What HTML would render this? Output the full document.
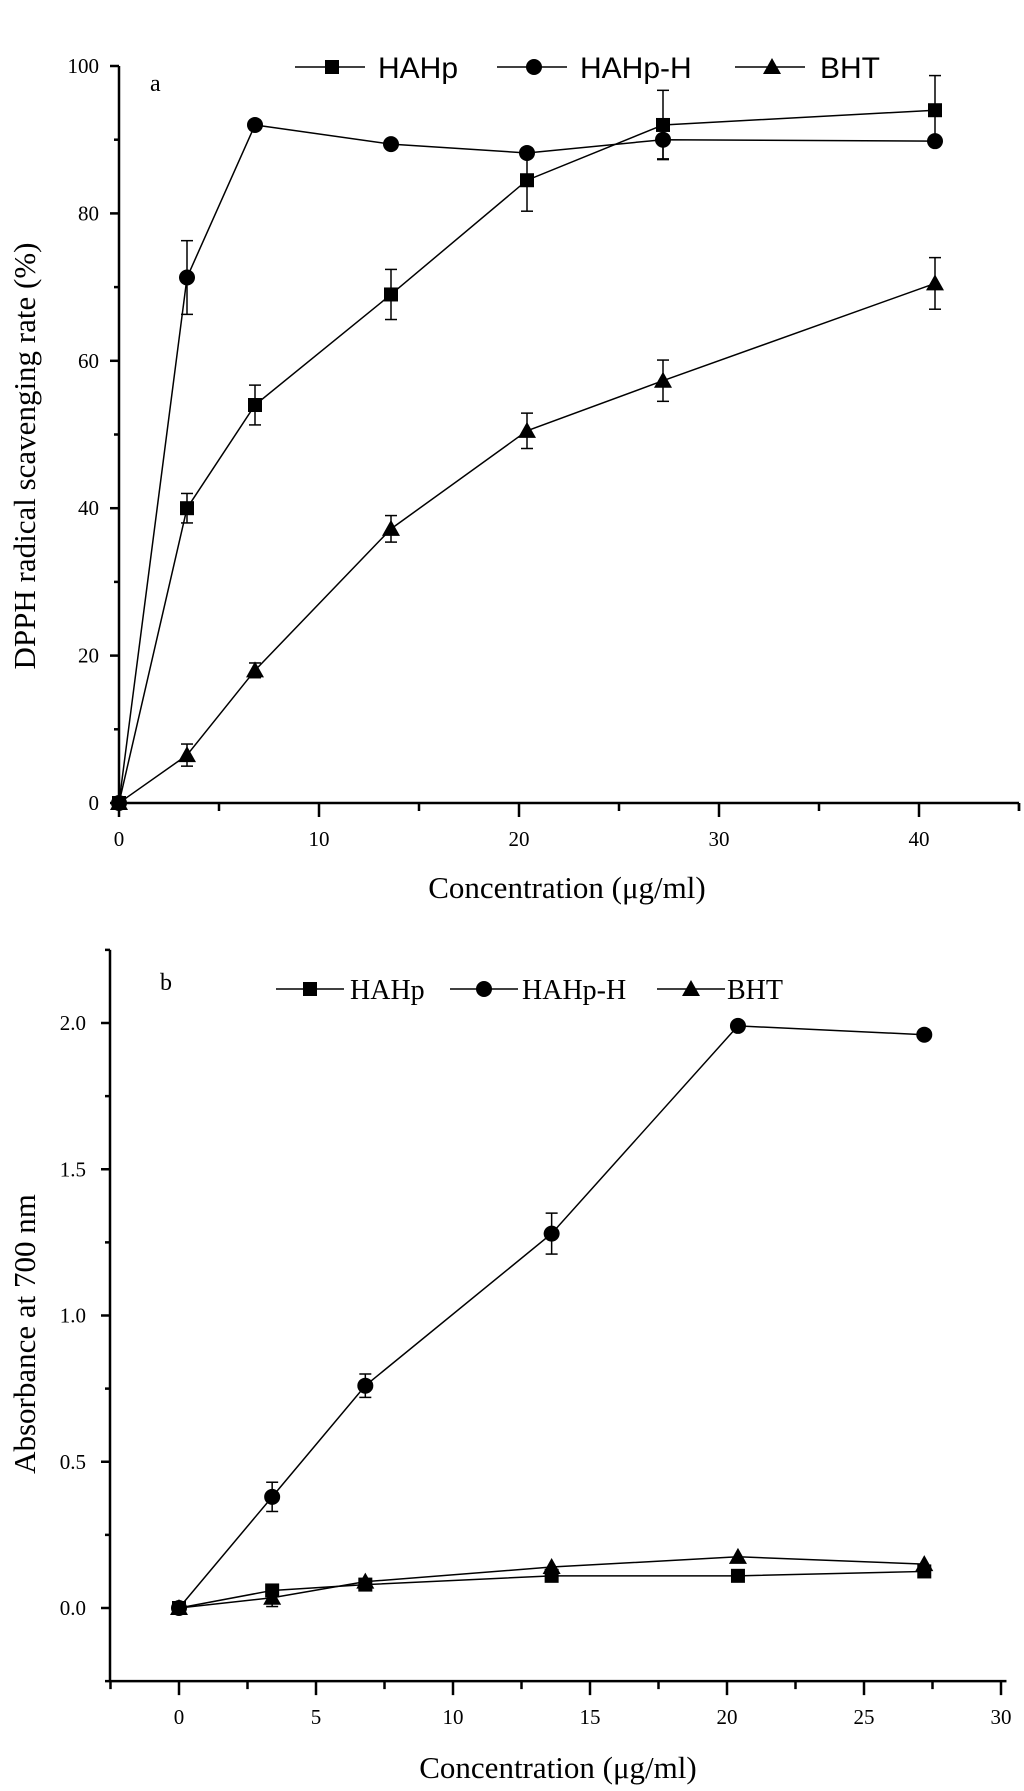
<!DOCTYPE html>
<html><head><meta charset="utf-8">
<style>
html,body{margin:0;padding:0;background:#fff;}
svg{display:block;}
</style></head>
<body>
<svg id="c" width="1024" height="1791" viewBox="0 0 1024 1791" xmlns="http://www.w3.org/2000/svg" font-family="'Liberation Serif', serif"></svg>
<script>
// ---- Chart a data ----
const aConc = [0, 3.4, 6.8, 13.6, 20.4, 27.2, 40.8];
const aHAHp = [0, 40, 54, 69, 84.5, 92, 94];
const aHAHpErr = [0, 2, 2.7, 3.4, 4.2, 4.7, 4.7];
const aHAHpH = [0, 71.3, 92, 89.4, 88.2, 90, 89.8];
const aHAHpHErr = [0, 5, 0.4, 0.4, 0.4, 2.6, 0.4];
const aBHT = [0, 6.5, 18, 37.2, 50.5, 57.3, 70.5];
const aBHTErr = [0, 1.5, 1, 1.8, 2.4, 2.8, 3.5];
const aXTicks = [0, 10, 20, 30, 40];
const aYTicks = [0, 20, 40, 60, 80, 100];
// ---- Chart b data ----
const bConc = [0, 3.4, 6.8, 13.6, 20.4, 27.2];
const bHAHp = [0, 0.06, 0.08, 0.11, 0.11, 0.125];
const bHAHpErr = [0, 0.01, 0.01, 0.01, 0.01, 0.01];
const bHAHpH = [0, 0.38, 0.76, 1.28, 1.99, 1.96];
const bHAHpHErr = [0, 0.05, 0.04, 0.07, 0, 0];
const bBHT = [0, 0.035, 0.09, 0.14, 0.175, 0.15];
const bBHTErr = [0, 0.03, 0.01, 0.01, 0.01, 0.01];
const bXTicks = [0, 5, 10, 15, 20, 25, 30];
const bYTicks = ['0.0', '0.5', '1.0', '1.5', '2.0'];

const NS = 'http://www.w3.org/2000/svg';
const svg = document.getElementById('c');
function mk(tag, attrs, parent, text) {
  const e = document.createElementNS(NS, tag);
  for (const k in attrs) e.setAttribute(k, attrs[k]);
  if (text !== undefined) e.textContent = text;
  (parent || svg).appendChild(e);
  return e;
}
function marker(g, shape, x, y, s) {
  let m;
  if (shape === 'sq') m = mk('rect', {x: x - s, y: y - s, width: 2 * s, height: 2 * s, fill: '#000'}, g);
  else if (shape === 'ci') m = mk('circle', {cx: x, cy: y, r: s + 1, fill: '#000'}, g);
  else m = mk('polygon', {points: `${x},${y - s - 2} ${x - s - 2},${y + s} ${x + s + 2},${y + s}`, fill: '#000'}, g);
  return m;
}
function series(g, name, xs, ys, es, sx, sy, shape) {
  const sg = mk('g', {}, g);
  
  
  const pts = xs.map((v, i) => `${sx(v)},${sy(ys[i])}`).join(' ');
  mk('polyline', {points: pts, fill: 'none', stroke: '#000', 'stroke-width': 1.5}, sg);
  xs.forEach((v, i) => {
    const x = sx(v), y1 = sy(ys[i] + es[i]), y2 = sy(ys[i] - es[i]);
    if (es[i] > 0) {
      mk('line', {x1: x, y1: y1, x2: x, y2: y2, stroke: '#000', 'stroke-width': 1.5}, sg);
      mk('line', {x1: x - 6, y1: y1, x2: x + 6, y2: y1, stroke: '#000', 'stroke-width': 1.5}, sg);
      mk('line', {x1: x - 6, y1: y2, x2: x + 6, y2: y2, stroke: '#000', 'stroke-width': 1.5}, sg);
    }
    const m = marker(sg, shape, x, sy(ys[i]), 7);
    
    
  });
}

// ===== Chart a =====
(function () {
  const g = mk('g', {});
  
  
  const X0 = 119, XS = 20.0, Y0 = 803, YS = 7.37;
  const sx = v => X0 + v * XS, sy = v => Y0 - v * YS;
  mk('line', {x1: sx(0), y1: sy(0), x2: sx(0), y2: sy(100), stroke: '#000', 'stroke-width': 2.5}, g);
  mk('line', {x1: sx(0), y1: sy(0), x2: sx(45), y2: sy(0), stroke: '#000', 'stroke-width': 2.5}, g);
  mk('line', {x1: sx(45), y1: sy(0), x2: sx(45), y2: sy(0) + 8, stroke: '#000', 'stroke-width': 2.5}, g);
  for (let v = 0; v <= 100; v += 10) {
    const maj = v % 20 === 0;
    mk('line', {x1: sx(0), y1: sy(v), x2: sx(0) - (maj ? 9 : 5), y2: sy(v), stroke: '#000', 'stroke-width': 2.5}, g);
  }
  aYTicks.forEach(v => {
    const t = mk('text', {x: 99, y: sy(v) + 7, 'text-anchor': 'end', 'font-size': 21}, g, String(v));
    
    
  });
  for (let v = 0; v <= 45; v += 5) {
    const maj = v % 10 === 0;
    mk('line', {x1: sx(v), y1: sy(0), x2: sx(v), y2: sy(0) + (maj ? 14 : 8), stroke: '#000', 'stroke-width': 2.5}, g);
  }
  aXTicks.forEach(v => {
    const t = mk('text', {x: sx(v), y: 846, 'text-anchor': 'middle', 'font-size': 21}, g, String(v));
    
    
  });
  const xt = mk('text', {x: 567, y: 898, 'text-anchor': 'middle', 'font-size': 31}, g, 'Concentration (μg/ml)');
  
  
  const yt = mk('text', {x: 0, y: 0, 'text-anchor': 'middle', 'font-size': 31, transform: 'translate(35,456) rotate(-90)'}, g, 'DPPH radical scavenging rate (%)');
  
  
  const pl = mk('text', {x: 150, y: 91, 'font-size': 24}, g, 'a');
  
  
  series(g, 'a-series-hahp', aConc, aHAHp, aHAHpErr, sx, sy, 'sq');
  series(g, 'a-series-hahp-h', aConc, aHAHpH, aHAHpHErr, sx, sy, 'ci');
  series(g, 'a-series-bht', aConc, aBHT, aBHTErr, sx, sy, 'tr');
  const leg = [['HAHp', 'sq', 295, 378], ['HAHp-H', 'ci', 497, 580], ['BHT', 'tr', 735, 820]];
  leg.forEach(l => {
    const lg = mk('g', {}, g);
    
    
    mk('line', {x1: l[2], y1: 67, x2: l[2] + 70, y2: 67, stroke: '#000', 'stroke-width': 1.5}, lg);
    marker(lg, l[1], l[2] + 37, 67, 7);
    mk('text', {x: l[3], y: 78, 'font-size': 30, 'font-family': "'Liberation Sans', sans-serif"}, lg, l[0]);
  });
})();

// ===== Chart b =====
(function () {
  const g = mk('g', {});
  
  
  const X0 = 179, XS = 27.4, Y0 = 1608, YS = 292.5;
  const sx = v => X0 + v * XS, sy = v => Y0 - v * YS;
  mk('line', {x1: 110, y1: sy(-0.25), x2: 110, y2: sy(2.25), stroke: '#000', 'stroke-width': 2.5}, g);
  mk('line', {x1: 110, y1: sy(-0.25), x2: sx(30.2), y2: sy(-0.25), stroke: '#000', 'stroke-width': 2.5}, g);
  for (let i = -1; i <= 9; i++) {
    const v = i * 0.25, maj = i % 2 === 0;
    mk('line', {x1: 110, y1: sy(v), x2: 110 - (maj ? 9 : 5), y2: sy(v), stroke: '#000', 'stroke-width': 2.5}, g);
  }
  bYTicks.forEach(s => {
    const t = mk('text', {x: 86, y: sy(parseFloat(s)) + 7, 'text-anchor': 'end', 'font-size': 21}, g, s);
    
    
  });
  for (let v = -2.5; v <= 30; v += 2.5) {
    const maj = v % 5 === 0;
    mk('line', {x1: sx(v), y1: sy(-0.25), x2: sx(v), y2: sy(-0.25) + (maj ? 14 : 8), stroke: '#000', 'stroke-width': 2.5}, g);
  }
  bXTicks.forEach(v => {
    const t = mk('text', {x: sx(v), y: 1724, 'text-anchor': 'middle', 'font-size': 21}, g, String(v));
    
    
  });
  const xt = mk('text', {x: 558, y: 1778, 'text-anchor': 'middle', 'font-size': 31}, g, 'Concentration (μg/ml)');
  
  
  const yt = mk('text', {x: 0, y: 0, 'text-anchor': 'middle', 'font-size': 31, transform: 'translate(35,1334) rotate(-90)'}, g, 'Absorbance at 700 nm');
  
  
  const pl = mk('text', {x: 160, y: 990, 'font-size': 24}, g, 'b');
  
  
  series(g, 'b-series-hahp', bConc, bHAHp, bHAHpErr.map(() => 0), sx, sy, 'sq');
  series(g, 'b-series-bht', bConc, bBHT, bBHTErr.map((e, i) => i === 1 ? e : 0), sx, sy, 'tr');
  series(g, 'b-series-hahp-h', bConc, bHAHpH, bHAHpHErr, sx, sy, 'ci');
  const leg = [['HAHp', 'sq', 276, 350], ['HAHp-H', 'ci', 450, 522], ['BHT', 'tr', 657, 727]];
  leg.forEach(l => {
    const lg = mk('g', {}, g);
    
    
    mk('line', {x1: l[2], y1: 989, x2: l[2] + 68, y2: 989, stroke: '#000', 'stroke-width': 1.5}, lg);
    marker(lg, l[1], l[2] + 34, 989, 7);
    mk('text', {x: l[3], y: 999, 'font-size': 28}, lg, l[0]);
  });
})();
</script>
</body></html>
